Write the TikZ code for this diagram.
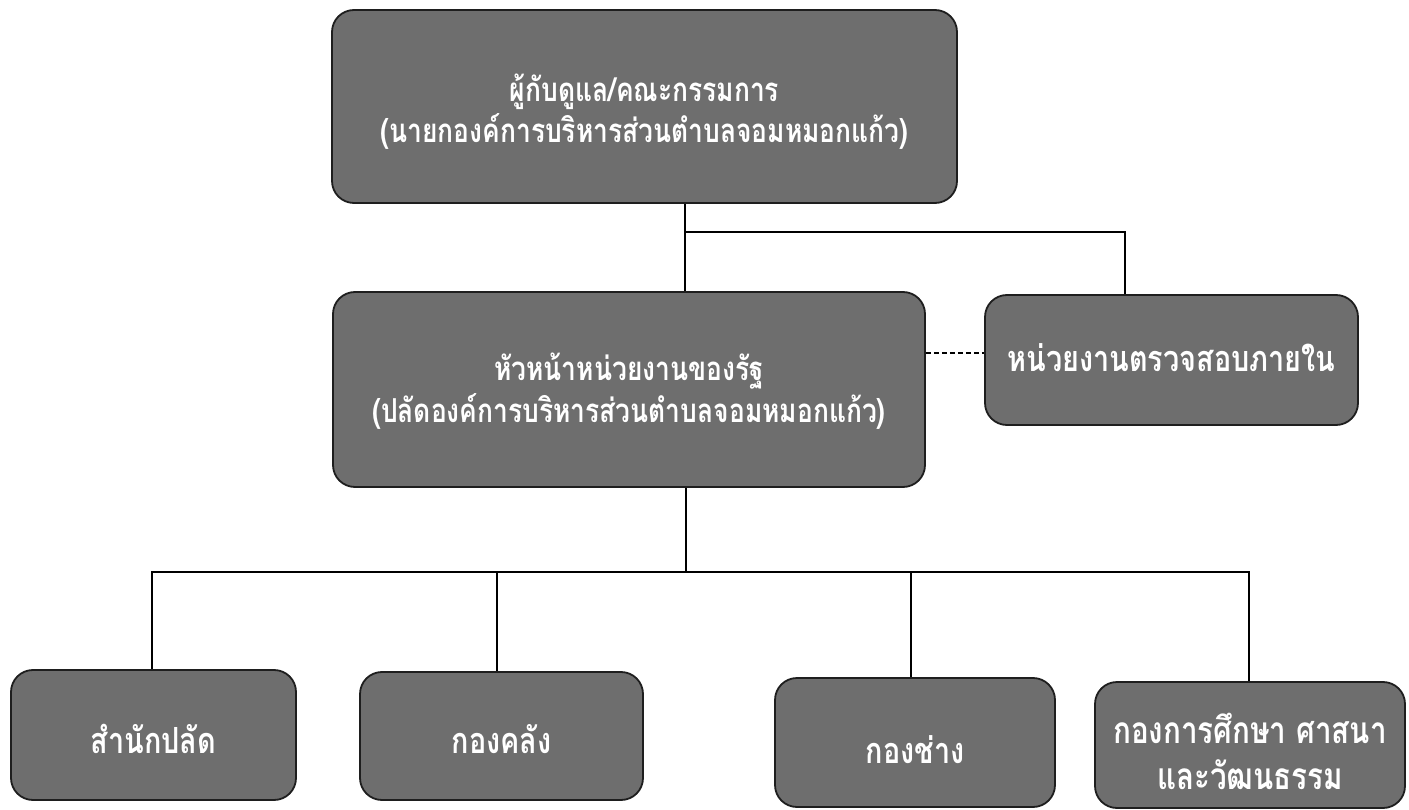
\documentclass[tikz,border=0pt]{standalone}
\usepackage{fontspec}
\newfontfamily\thai[Script=Thai,FakeStretch=0.8]{Loma}
\definecolor{boxgray}{RGB}{110,110,110}
\definecolor{edgegray}{RGB}{30,30,30}
\newcommand\tf[2]{\thai\bfseries\fontsize{#1}{#2}\selectfont}
\newcommand\bt[2]{\raisebox{-#1}[0pt][0pt]{\begin{tabular}{@{}c@{}}#2\end{tabular}}}
\begin{document}
\begin{tikzpicture}[x=1pt,y=-1pt,
  box/.style={draw=edgegray, line width=1.8pt, fill=boxgray, rounded corners=22pt,
              inner sep=0pt, align=center, text=white},
  link/.style={draw=black, line width=1.4pt},
  dlink/.style={draw=black, line width=1.4pt, dash pattern=on 5pt off 3pt}]
\useasboundingbox (0,0) rectangle (1409,810);
\fill[white] (0,0) rectangle (1409,810);

% boxes
\node[box, minimum width=625pt, minimum height=193pt, font=\tf{33}{40}] (top) at (644.5,106.5)
  {\bt{14pt}{ผู้กับดูแล/คณะกรรมการ\\(นายกองค์การบริหารส่วนตำบลจอมหมอกแก้ว)}};
\node[box, minimum width=592pt, minimum height=195pt, font=\tf{33}{42}] (mid) at (629,389.5)
  {\bt{10pt}{หัวหน้าหน่วยงานของรัฐ\\(ปลัดองค์การบริหารส่วนตำบลจอมหมอกแก้ว)}};
\node[box, minimum width=373pt, minimum height=130pt, font=\tf{36}{43}] (audit) at (1171.5,360)
  {\bt{9pt}{หน่วยงานตรวจสอบภายใน}};
\node[box, minimum width=285pt, minimum height=130pt, font=\tf{36}{43}] (b1) at (153.5,735)
  {\bt{16pt}{สำนักปลัด}};
\node[box, minimum width=283pt, minimum height=128pt, font=\tf{36}{43}] (b2) at (501.5,736)
  {\bt{15pt}{กองคลัง}};
\node[box, minimum width=280pt, minimum height=129pt, font=\tf{36}{43}] (b3) at (915,742.5)
  {\bt{19pt}{กองช่าง}};
\node[box, minimum width=310pt, minimum height=126pt, font=\tf{37}{46}] (b4) at (1250,745)
  {\bt{19pt}{กองการศึกษา ศาสนา\\และวัฒนธรรม}};

% junctions
\coordinate (j1) at (685,232);
\coordinate (a1) at (1125,232);
\coordinate (j2) at (686,572);
\coordinate (v1) at (152,572);
\coordinate (v2) at (497,572);
\coordinate (v3) at (911,572);
\coordinate (v4) at (1249,572);
\coordinate (dy) at (0,353);

% connectors
\draw[link] (j1 |- top.south) -- (j1 |- mid.north);
\draw[link] (j1) -- (a1) -- (a1 |- audit.north);
\draw[dlink] (mid.east |- dy) -- (audit.west |- dy);
\draw[link] (j2 |- mid.south) -- (j2);
\draw[link] (v1 |- b1.north) -- (v1) -- (v4) -- (v4 |- b4.north);
\draw[link] (v2) -- (v2 |- b2.north);
\draw[link] (v3) -- (v3 |- b3.north);
\end{tikzpicture}
\end{document}
